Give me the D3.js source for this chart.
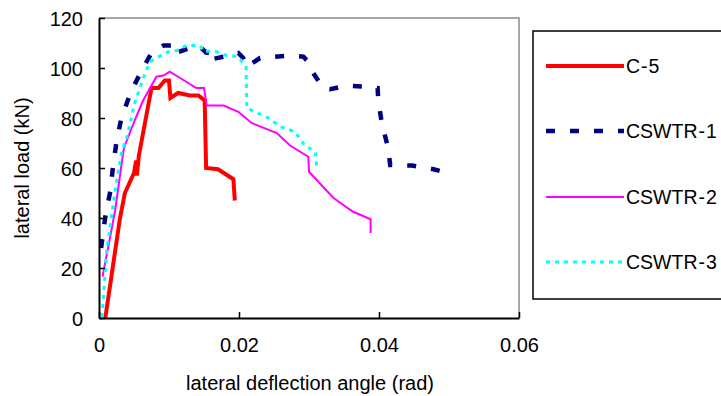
<!DOCTYPE html>
<html>
<head>
<meta charset="utf-8">
<script src="https://cdn.jsdelivr.net/npm/d3@7"></script>
<style>
body{margin:0;background:#fff;}
text{font-family:"Liberation Sans",Arial,sans-serif;fill:#000;}
</style>
</head>
<body>
<div id="svg-container"></div>
<script>
// values: [angle (rad), load (kN)]
var c5 = [[0.0009,0],[0.003,40],[0.0037,50],[0.005,58],[0.0053,63],[0.0054,57],[0.0057,65],[0.0075,92],[0.0085,92],[0.0094,95],[0.0100,95],[0.0102,88],[0.0113,90],[0.013,89],[0.0142,89],[0.0151,87],[0.0153,60],[0.017,59.5],[0.0192,55.5],[0.0194,47]];
var cswtr1 = [[0.0003,28],[0.0009,40.5],[0.0016,50.5],[0.002,60.5],[0.0025,70.5],[0.0032,80],[0.0045,90],[0.0059,98],[0.0075,106],[0.0092,109],[0.0104,109],[0.0105,106],[0.011,106],[0.013,108],[0.0144,108.5],[0.0154,106],[0.0152,103],[0.0178,104.5],[0.0199,106],[0.0206,104],[0.0211,100.5],[0.023,104],[0.0273,105],[0.0292,104.5],[0.0299,102.5],[0.0306,98],[0.032,92],[0.033,91.5],[0.0354,93],[0.0382,92.5],[0.0398,92],[0.0399,87],[0.0404,78],[0.0413,68],[0.0416,61.2],[0.0447,61],[0.0478,59.5],[0.0498,58],[0.0498,56.5]];
var cswtr2 = [[0.0005,16.5],[0.0016,32.5],[0.0023,43],[0.0035,67],[0.0037,69],[0.0051,79],[0.0063,87],[0.0082,96.5],[0.0092,97],[0.0101,98.5],[0.0116,96],[0.0139,92],[0.015,92],[0.0154,85],[0.0178,85],[0.0199,82.5],[0.0218,78],[0.0254,74],[0.0273,69],[0.0299,64.5],[0.03,58.5],[0.0335,48],[0.0363,42.5],[0.0388,39.5],[0.0388,34]];
var cswtr3 = [[0.0004,0.5],[0.0006,7],[0.0011,27],[0.0016,37],[0.0023,51],[0.0032,66],[0.004,72.5],[0.0051,86],[0.0066,98],[0.0073,102.5],[0.0082,104],[0.0099,106.5],[0.0111,107],[0.0125,109],[0.0144,109],[0.0151,106.5],[0.0163,107],[0.0182,105],[0.0199,104.5],[0.021,100.5],[0.0211,87],[0.0211,84],[0.0242,80],[0.0259,76.5],[0.028,74.5],[0.0294,69],[0.0309,66.5],[0.0311,60.5]];

var seriesNames = [["C","5"],["CSWTR","1"],["CSWTR","2"],["CSWTR","3"]];
var seriesData = [c5, cswtr1, cswtr2, cswtr3];
var xTicks = [0,0.02,0.04,0.06];
var yTicks = [0,20,40,60,80,100,120];

var styles = [
  {color:"#ff0000", width:4, dash:null},
  {color:"#000080", width:4.5, dash:"9,15"},
  {color:"#ff00ff", width:2, dash:null},
  {color:"#00ffff", width:3, dash:"4,5"}
];

var svg = d3.select("#svg-container").append("svg").attr("width",721).attr("height",396);

var pLeft = 99, pRight = 519, pTop = 18, pBottom = 318;
var x = d3.scaleLinear().domain([0,0.06]).range([pLeft,pRight]);
var y = d3.scaleLinear().domain([0,120]).range([pBottom,pTop]);

// plot frame (gray top/right)
svg.append("path").attr("d","M"+pLeft+","+pTop+"H"+pRight+"V"+pBottom)
  .attr("fill","none").attr("stroke","#8c8c8c").attr("stroke-width",1.5);

var line = d3.line().x(function(d){return x(d[0]);}).y(function(d){return y(d[1]);});

seriesData.forEach(function(s,i){
  svg.append("path").datum(s).attr("d",line)
    .attr("fill","none").attr("stroke",styles[i].color)
    .attr("stroke-width",styles[i].width)
    .attr("stroke-dasharray",styles[i].dash)
    .attr("stroke-linejoin","miter");
});

// axes with inward ticks
var xAxis = svg.append("g").attr("transform","translate(0,"+pBottom+")")
  .call(d3.axisBottom(x).tickValues(xTicks).tickSize(-6).tickSizeOuter(0).tickPadding(20).tickFormat(function(d){return d===0?"0":d3.format(".2f")(d);}));
var yAxis = svg.append("g").attr("transform","translate("+pLeft+",0)")
  .call(d3.axisLeft(y).tickValues(yTicks).tickSize(-6).tickSizeOuter(0).tickPadding(16));
[xAxis,yAxis].forEach(function(a){
  a.select(".domain").attr("stroke","#000").attr("stroke-width",2);
  a.selectAll(".tick line").attr("stroke","#000").attr("stroke-width",1.5);
  a.selectAll("text").style("font-size","20px").style("font-family","Liberation Sans, Arial, sans-serif");
});
yAxis.selectAll("text").attr("dy","0.35em");

// axis titles
svg.append("text").attr("x",310).attr("y",390).attr("text-anchor","middle")
  .style("font-size","20px").text("lateral deflection angle (rad)");
svg.append("text").attr("transform","translate(29,168) rotate(-90)").attr("text-anchor","middle")
  .style("font-size","20px").text("lateral load (kN)");

// legend
svg.append("rect").attr("x",533).attr("y",31).attr("width",200).attr("height",268)
  .attr("fill","#fff").attr("stroke","#000").attr("stroke-width",1.5);
var legY = [66,131,197,262];
seriesNames.forEach(function(n,i){
  svg.append("line").attr("x1",546).attr("x2",624).attr("y1",legY[i]).attr("y2",legY[i])
    .attr("stroke",styles[i].color).attr("stroke-width",styles[i].width)
    .attr("stroke-dasharray",styles[i].dash);
  var t = svg.append("text").attr("x",626).attr("y",legY[i]).attr("dy","0.35em")
    .style("font-size","19.5px");
  t.append("tspan").text(n[0]);
  t.append("tspan").attr("dx",1).text("-");
  t.append("tspan").attr("dx",1).text(n[1]);
});
</script>
</body>
</html>
